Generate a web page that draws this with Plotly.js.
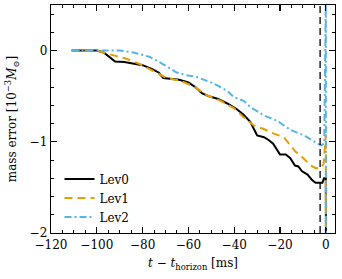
<!DOCTYPE html>
<html><head><meta charset="utf-8">
<script src="https://cdn.plot.ly/plotly-3.0.1.min.js"></script>
<style>html,body{margin:0;padding:0;background:#fff}#c{width:342px;height:279px}</style>
</head><body><div id="c"></div>
<script>
const lev0X = [-111,-100,-97,-93,-92,-88,-84,-80,-76,-73,-71,-68,-64,-60,-57,-54,-51,-47,-43,-39,-36,-33,-30,-27,-25,-23,-21,-20,-17.5,-15.5,-13.5,-12,-10.5,-8,-6,-4.5,-1.5,-0.8,0,0.05];
const lev0Y = [0,0,-0.02,-0.1,-0.12,-0.125,-0.14,-0.16,-0.2,-0.24,-0.3,-0.31,-0.32,-0.35,-0.4,-0.47,-0.5,-0.53,-0.58,-0.64,-0.7,-0.78,-0.93,-0.95,-0.98,-1.02,-1.1,-1.14,-1.14,-1.18,-1.26,-1.27,-1.32,-1.36,-1.42,-1.45,-1.45,-1.40,-1.40,-2.1];
const lev1X = [-111,-100,-94.4,-87,-81,-75.4,-69.5,-63.7,-57.8,-52,-46,-40.2,-35.9,-31.5,-27.1,-22.7,-18.3,-16.1,-13.2,-11,-8.8,-6.6,-4.4,-2.2,-1,0,0.05];
const lev1Y = [0,0,-0.04,-0.09,-0.15,-0.22,-0.30,-0.33,-0.39,-0.49,-0.55,-0.63,-0.73,-0.82,-0.86,-0.91,-0.95,-1.02,-1.11,-1.15,-1.2,-1.26,-1.29,-1.29,-1.24,-0.92,-2.1];
const lev2X = [-111,-90,-84,-76.8,-71,-65.1,-60.7,-56.3,-49,-43.1,-40.2,-35.9,-32.9,-27.1,-21.2,-15.4,-9.5,-5.1,-2.2,-0.7,0,0.05];
const lev2Y = [0,0,-0.02,-0.07,-0.15,-0.24,-0.27,-0.29,-0.36,-0.44,-0.51,-0.55,-0.62,-0.71,-0.77,-0.87,-0.93,-1.0,-1.04,-1.02,0.6,-2.1];
const horizonMarkerX = -2.5;
const xTicks = [-120,-100,-80,-60,-40,-20,0];
const yTicks = [-2,-1,0];

const F = "DejaVu Serif, Liberation Serif, serif";
const traces = [
  {x: lev0X, y: lev0Y, name: 'Lev0', mode: 'lines', line: {color: '#000000', width: 2}},
  {x: lev1X, y: lev1Y, name: 'Lev1', mode: 'lines', line: {color: '#E69F00', width: 2, dash: '8px,5px'}},
  {x: lev2X, y: lev2Y, name: 'Lev2', mode: 'lines', line: {color: '#56B4E9', width: 2, dash: '7px,3px,2px,3px'}}
];
const axBase = {
  showline: true, mirror: 'allticks', linecolor: '#000', linewidth: 1.3,
  ticks: 'inside', ticklen: 6, tickwidth: 1.2, tickcolor: '#000',
  showgrid: false, zeroline: false,
  tickfont: {family: F, size: 12, color: '#000'},
  minor: {ticks: 'inside', ticklen: 3, tickwidth: 1, tickcolor: '#000', showgrid: false}
};
const layout = {
  width: 342, height: 279,
  margin: {l: 51, r: 7, t: 5, b: 46},
  paper_bgcolor: '#fff', plot_bgcolor: '#fff',
  showlegend: true,
  legend: {x: 0.03, y: 0.30, xanchor: 'left', yanchor: 'top', bgcolor: 'rgba(0,0,0,0)',
           font: {family: F, size: 12, color: '#000'}, tracegroupgap: 0, itemwidth: 30},
  xaxis: Object.assign({}, axBase, {range: [-120, 4], tickvals: xTicks, minor: Object.assign({}, axBase.minor, {dtick: 5, tick0: 0}),
    title: {text: '<i>t</i> − <i>t</i><sub>horizon</sub> [ms]', font: {family: F, size: 12, color: '#000'}, standoff: 8}}),
  yaxis: Object.assign({}, axBase, {range: [-2, 0.5], tickvals: yTicks, minor: Object.assign({}, axBase.minor, {dtick: 0.2, tick0: 0}),
    title: {text: 'mass error [10<sup>−3</sup><i>M</i><sub>⊙</sub>]', font: {family: F, size: 12, color: '#000'}, standoff: 10}}),
  shapes: [{type: 'line', xref: 'x', yref: 'paper', x0: horizonMarkerX, x1: horizonMarkerX, y0: 0, y1: 1,
            line: {color: '#000', width: 1.3, dash: '7px,4px'}}]
};
Plotly.newPlot('c', traces, layout, {staticPlot: true, displayModeBar: false});
</script></body></html>
